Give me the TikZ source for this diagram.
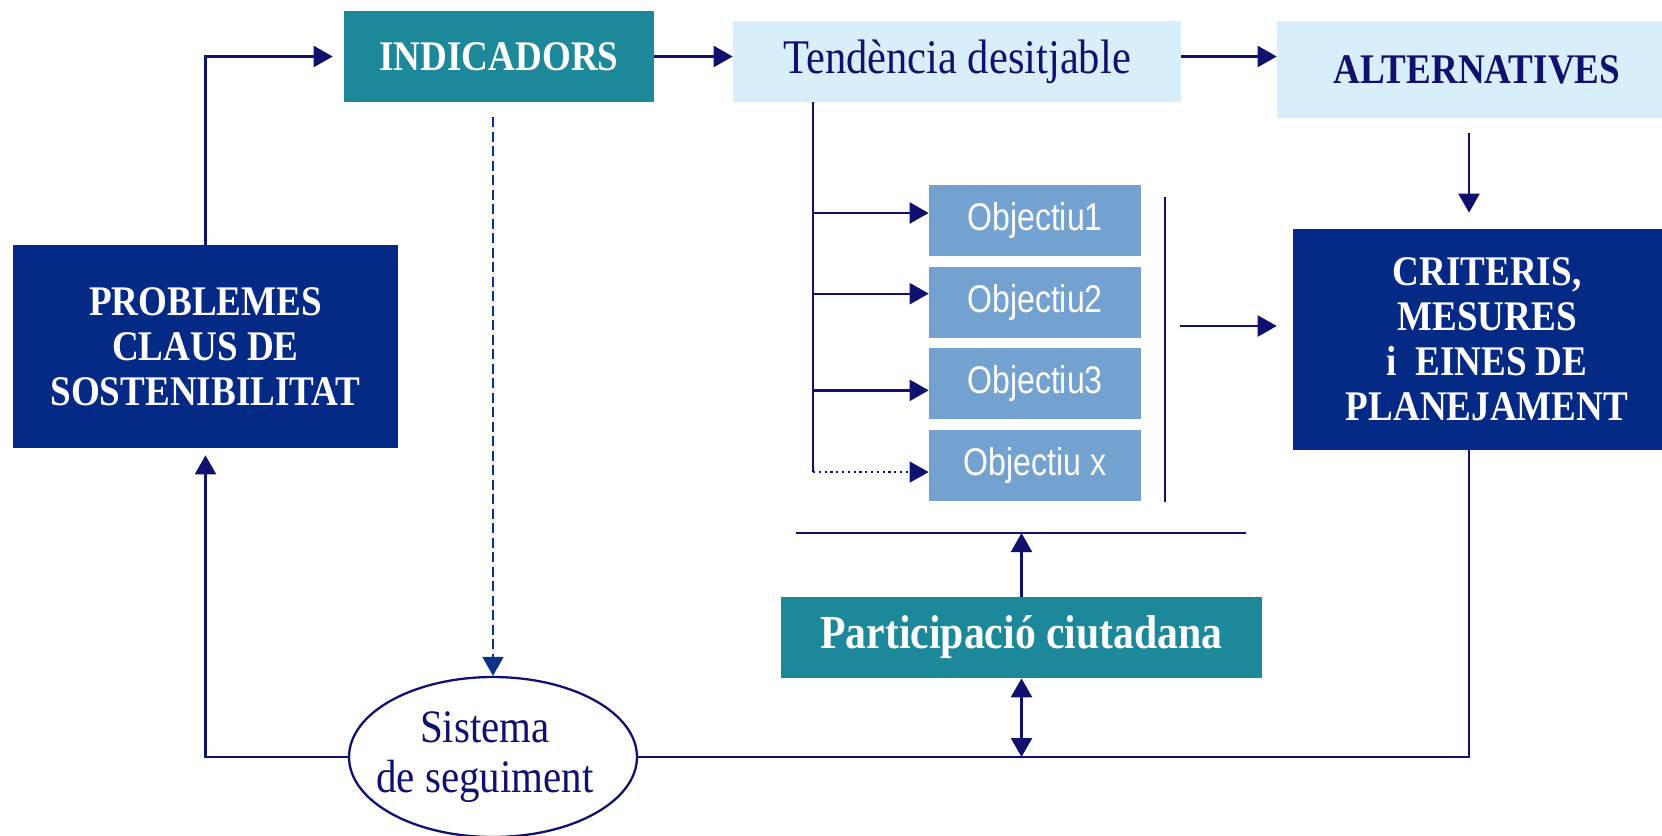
\documentclass[tikz,border=0pt]{standalone}
\usepackage{fontspec}
\usepackage{tikz}
\usetikzlibrary{arrows.meta,positioning,shapes.geometric}
\newfontfamily\condserif{Liberation Serif}[FakeStretch=0.88]
\newfontfamily\condsans{Liberation Sans}[FakeStretch=0.83]
\definecolor{cTeal}{HTML}{1E889B}
\definecolor{cNavy}{HTML}{042A85}
\definecolor{cSky}{HTML}{D8EEFB}
\definecolor{cObj}{HTML}{74A2D0}
\definecolor{cLine}{HTML}{10106E}
\definecolor{cDash}{HTML}{0A3288}
\tikzset{
  blk/.style={fill=#1,inner sep=0pt,align=center},
  big/.style={font={\condserif\bfseries\fontsize{24}{25.6}\selectfont},text=white},
  obj/.style={blk=cObj,minimum width=4.24cm,minimum height=1.42cm,text=white,font={\condsans\fontsize{22}{24}\selectfont}},
  wire/.style={line width=1.3pt,draw=cLine},
  flow/.style={wire,-{Triangle[length=0.38cm,width=0.42cm]}}
}

\begin{document}
\begin{tikzpicture}[x=0.02cm,y=-0.02cm]
    \useasboundingbox (0,0) rectangle (1662,835);
    % Nodes
    \node[blk=cTeal,big,minimum width=6.2cm,minimum height=1.82cm] (indic) at (499,56.5) {INDICADORS};
    \node[blk=cSky,minimum width=8.96cm,minimum height=1.62cm,text=cLine,font={\condserif\fontsize{27.5}{30}\selectfont}] (tend) at (957,61.5) {Tendència desitjable};
    \node[blk=cSky,big,text=cLine,minimum width=8cm,minimum height=1.94cm] (alt) at (1477,69.5) {ALTERNATIVES};
    \node[blk=cNavy,big,minimum width=7.76cm,minimum height=4.42cm] (crit) at (1487,339.5) {CRITERIS,\\MESURES\\i\ \ EINES DE\\PLANEJAMENT};
    \node[blk=cNavy,big,minimum width=7.7cm,minimum height=4.06cm] (probl) at (205.5,346.5) {PROBLEMES\\CLAUS DE\\SOSTENIBILITAT};
    \node[obj] (ob1) at (1035,220.5) {Objectiu1};
    \node[obj,below=0.2cm of ob1] (ob2) {Objectiu2};
    \node[obj,below=0.2cm of ob2] (ob3) {Objectiu3};
    \node[obj,below=0.2cm of ob3] (obx) {Objectiu x};
    \node[blk=cTeal,big,minimum width=9.62cm,minimum height=1.62cm,font={\condserif\bfseries\fontsize{27}{29}\selectfont}] (part) at (1021.5,637.5) {Participació ciutadana};
    \node[ellipse,draw=cLine,line width=1.3pt,fill=white,minimum width=5.76cm,minimum height=3.2cm] (seg) at (493,757) {};
    \node[align=center,inner sep=0pt,text=cLine,font={\condserif\fontsize{26.5}{28.5}\selectfont}] (segtxt) at (485,757) {Sistema\\de seguiment};

    \coordinate (trk) at (813,0);
    \coordinate (barT) at (1165,197);
    \coordinate (barB) at (1165,502);
    \coordinate (barA) at (1180,326);
    \coordinate (hlL) at (796,533);
    \coordinate (hlR) at (1246,533);
    \coordinate (rc) at (1469,757);

    % Paths
    \draw[flow,shorten >=0.22cm] (probl.north) |- (indic.west);
    \draw[flow] (indic.east) -- (indic.east -| tend.west);
    \draw[flow] (tend.east |- indic.east) -- (indic.east -| alt.west);
    \draw[flow,shorten <=0.3cm,shorten >=0.32cm] (rc |- alt.south) -- (rc |- crit.north);
    \draw[wire] (trk |- tend.south) -- ([yshift=-0.13cm]trk |- obx.west);
    \foreach \o/\dy in {ob1/0.15cm,ob2/0.17cm,ob3/-0.13cm}
      \draw[flow] ([yshift=\dy]trk |- \o.west) -- ([yshift=\dy]\o.west);
    \draw[flow,dotted,line width=0.8pt] ([yshift=-0.13cm]trk |- obx.west) -- ([yshift=-0.13cm]obx.west);
    \draw[wire] (barT) -- (barB);
    \draw[flow,shorten >=0.32cm] (barA) -- (barA -| crit.west);
    \draw[wire] (hlL) -- (hlR);
    \draw[flow] (part.north) -- (part.north |- hlL);
    \draw[flow,{Triangle[length=0.38cm,width=0.42cm]}-{Triangle[length=0.38cm,width=0.42cm]}] (part.south) -- (part.south |- seg.east);
    \draw[wire] (seg.east) -- (rc) -- (rc |- crit.south);
    \draw[flow,shorten >=0.14cm] (seg.west) -| (probl.south);
    \draw[flow,draw=cDash,fill=cDash,dash pattern=on 0.2cm off 0.09cm,line width=0.9pt,shorten <=0.3cm] (indic.south -| seg.north) -- (seg.north);
  \end{tikzpicture}
\end{document}
